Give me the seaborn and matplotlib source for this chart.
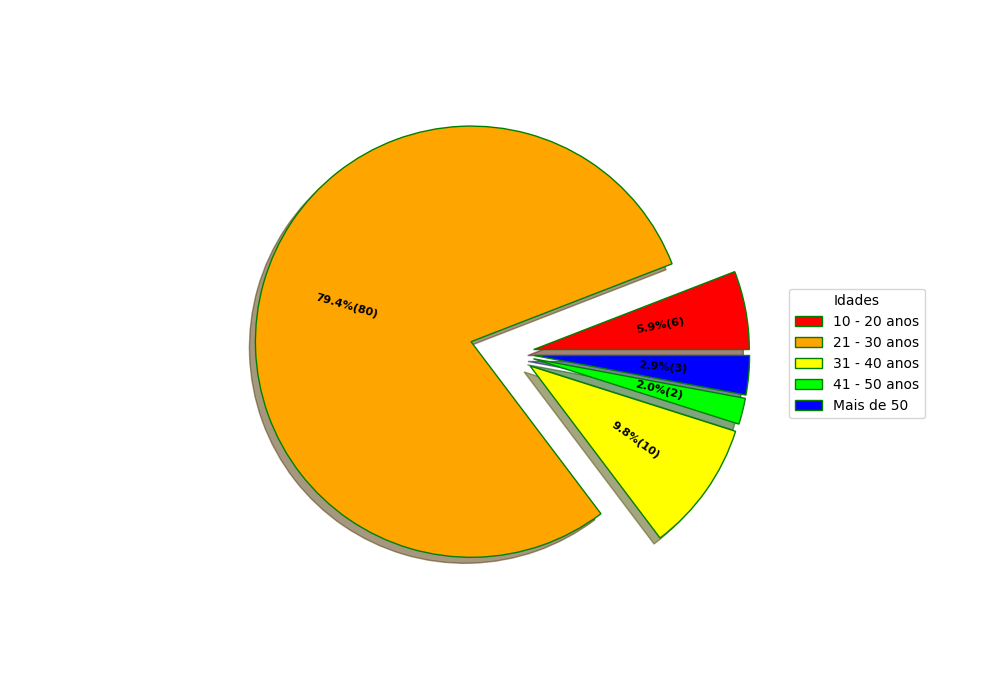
import matplotlib
matplotlib.use("Agg")
import matplotlib.pyplot as plt
import seaborn as sns

# faixas etarias e contagens
faixas = ["10 - 20 anos", "21 - 30 anos", "31 - 40 anos", "41 - 50 anos", "Mais de 50"]
contagens = [6, 81, 10, 2, 3]
total_amostra = 101
cores = ["red", "orange", "yellow", "lime", "blue"]
explode = [0.1, 0.2, 0.1, 0.1, 0.1]

sns.set_style("white", rc={"text.color": "black"})
plt.rcParams["font.family"] = ["DejaVu Sans"]


def fmt_pct(pct):
    absoluto = int(round(pct / 100.0 * total_amostra))
    return f"{pct:.1f}%({absoluto})"


fig, ax = plt.subplots(figsize=(10, 7), dpi=100)

wedges, texts, autotexts = ax.pie(
    contagens,
    explode=explode,
    colors=sns.color_palette(cores),
    autopct=fmt_pct,
    shadow=True,
    startangle=0,
    wedgeprops={"edgecolor": "green"},
    textprops={"fontsize": 8, "fontweight": "bold", "color": "black"},
)

# gira os rotulos na direcao de cada fatia
for w, t in zip(wedges, autotexts):
    ang = (w.theta1 + w.theta2) / 2.0
    if 90 < ang < 270:
        ang -= 180
    t.set_rotation(ang)

ax.legend(wedges, faixas, title="Idades", loc="center left",
          bbox_to_anchor=(1, 0, 0.5, 1), fontsize=10)

fig.savefig("out.png", dpi=100)
